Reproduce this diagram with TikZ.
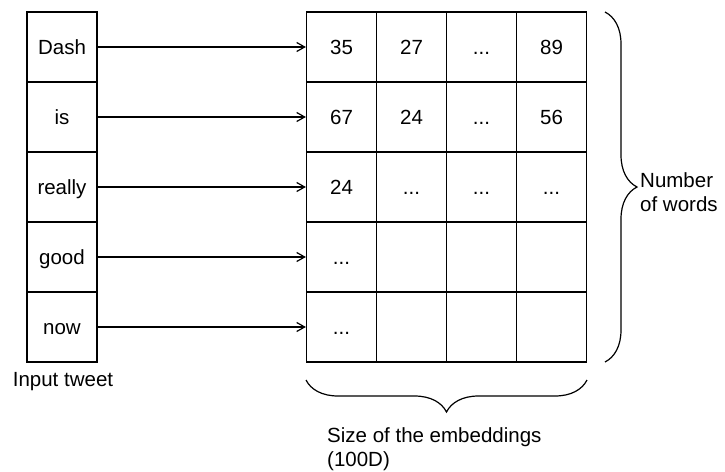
\documentclass[tikz,border=0pt]{standalone}
\usepackage{fontspec}
\setmainfont{Liberation Sans}
\usepackage{tikz}
\usetikzlibrary{arrows.meta,decorations.pathreplacing}

\tikzset{
    cell/.style={draw, line width=1.2pt, minimum width=70pt, minimum height=70pt, inner sep=0pt, text height=14.5pt, text depth=0pt},
    lbl/.style={inner sep=0pt, align=left},
    brc/.style={line width=1.2pt, decorate, decoration={brace, amplitude=32pt}}
}

\begin{document}
\begin{tikzpicture}[x=1pt, y=-1pt, >={Straight Barb[length=8pt, width=9pt]}, every node/.style={font=\fontsize{20.5}{24}\selectfont}]
    \useasboundingbox (0,0) rectangle (725,471);

    % words of the tweet
    \node[cell] (W1) at (62,47)  {Dash};
    \node[cell] (W2) at (62,117) {is};
    \node[cell] (W3) at (62,187) {really};
    \node[cell] (W4) at (62,257) {good};
    \node[cell] (W5) at (62,327) {now};
    \node[lbl] (intweet) at (63,382) {Input tweet};

    % embedding matrix, one row per word
    \node[cell] (E11) at (341.5,47) {35};
    \node[cell] (E12) at (411.5,47) {27};
    \node[cell] (E13) at (481.5,47) {...};
    \node[cell] (E14) at (551.5,47) {89};

    \node[cell] (E21) at (341.5,117) {67};
    \node[cell] (E22) at (411.5,117) {24};
    \node[cell] (E23) at (481.5,117) {...};
    \node[cell] (E24) at (551.5,117) {56};

    \node[cell] (E31) at (341.5,187) {24};
    \node[cell] (E32) at (411.5,187) {...};
    \node[cell] (E33) at (481.5,187) {...};
    \node[cell] (E34) at (551.5,187) {...};

    \node[cell] (E41) at (341.5,257) {...};
    \node[cell] (E42) at (411.5,257) {};
    \node[cell] (E43) at (481.5,257) {};
    \node[cell] (E44) at (551.5,257) {};

    \node[cell] (E51) at (341.5,327) {...};
    \node[cell] (E52) at (411.5,327) {};
    \node[cell] (E53) at (481.5,327) {};
    \node[cell] (E54) at (551.5,327) {};

    % lookup arrows
    \draw[->, line width=1.2pt] (W1) -- (E11);
    \draw[->, line width=1.2pt] (W2) -- (E21);
    \draw[->, line width=1.2pt] (W3) -- (E31);
    \draw[->, line width=1.2pt] (W4) -- (E41);
    \draw[->, line width=1.2pt] (W5) -- (E51);

    % braces with their labels
    \coordinate (rtop) at (605,12);
    \coordinate (rbot) at (605,362);
    \draw[brc] (rtop) -- (rbot);
    \node[lbl, anchor=west] (nwords) at (640,192) {Number\\of words};

    \coordinate (bright) at (587,380);
    \coordinate (bleft) at (306,380);
    \draw[brc] (bright) -- (bleft);
    \node[lbl, anchor=west] (esize) at (327,449) {Size of the embeddings\\(100D)};
\end{tikzpicture}
\end{document}
